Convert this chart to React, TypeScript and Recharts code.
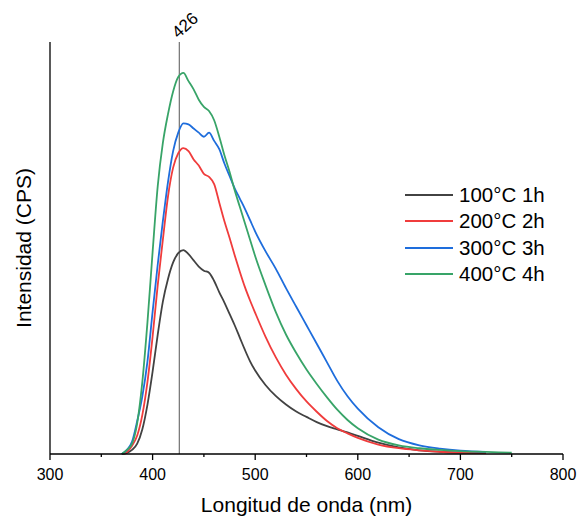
import React from 'react'
import { LineChart, Line, XAxis, YAxis, ReferenceLine, Legend, Label } from 'recharts'

// ── Data ──────────────────────────────────────────────────────
const wavelengths = [
  370, 375, 380, 385, 390, 395, 400, 405, 410, 415, 420, 425, 430, 435, 440, 445, 450, 455,
  460, 465, 470, 475, 480, 485, 490, 495, 500, 510, 520, 530, 540, 550, 560, 570, 580, 590,
  600, 620, 640, 660, 680, 700, 725, 750,
]

const s100 = [
  0, 0.005, 0.02, 0.05, 0.12, 0.24, 0.4, 0.58, 0.74, 0.85, 0.93, 0.975, 0.99, 0.97, 0.94, 0.91, 0.89, 0.88,
  0.84, 0.785, 0.735, 0.68, 0.625, 0.565, 0.505, 0.45, 0.405, 0.335, 0.282, 0.24, 0.206, 0.18, 0.155, 0.135, 0.12, 0.105,
  0.088, 0.055, 0.032, 0.018, 0.011, 0.007, 0.004, null,
]

const s200 = [
  0, 0.01, 0.04, 0.09, 0.19, 0.35, 0.57, 0.82, 1.04, 1.25, 1.39, 1.46, 1.485, 1.47, 1.43, 1.4, 1.36, 1.345,
  1.31, 1.22, 1.13, 1.05, 0.965, 0.885, 0.81, 0.745, 0.685, 0.57, 0.47, 0.385, 0.315, 0.255, 0.205, 0.16, 0.125, 0.1,
  0.078, 0.046, 0.028, 0.018, 0.011, 0.007, 0.004, null,
]

const s300 = [
  0, 0.02, 0.06, 0.16, 0.28, 0.45, 0.69, 0.92, 1.13, 1.32, 1.47, 1.56, 1.605, 1.6, 1.58, 1.56, 1.54, 1.56,
  1.52, 1.48, 1.41, 1.35, 1.29, 1.24, 1.19, 1.135, 1.08, 0.985, 0.9, 0.805, 0.715, 0.625, 0.535, 0.445, 0.355, 0.28,
  0.22, 0.13, 0.072, 0.042, 0.026, 0.016, 0.01, null,
]

const s400 = [
  0, 0.02, 0.05, 0.15, 0.35, 0.64, 0.98, 1.3, 1.51, 1.65, 1.76, 1.83, 1.85, 1.81, 1.77, 1.72, 1.685, 1.665,
  1.62, 1.54, 1.45, 1.37, 1.28, 1.2, 1.12, 1.04, 0.96, 0.82, 0.69, 0.58, 0.49, 0.41, 0.34, 0.275, 0.215, 0.165,
  0.125, 0.07, 0.042, 0.028, 0.02, 0.014, 0.01, 0.006,
]

const seriesNames = ['100°C 1h', '200°C 2h', '300°C 3h', '400°C 4h']
const seriesColors = ['#424242', '#f03c3c', '#1e6ddc', '#38a468']
const xTicks = [300, 350, 400, 450, 500, 550, 600, 650, 700, 750, 800]
const yTicks = [0, 1, 2]
const peak = 426

const data = wavelengths.map((w, i) => ({
  w,
  a: s100[i],
  b: s200[i],
  c: s300[i],
  d: s400[i],
}))

const FONT = '"Liberation Sans", Arial, sans-serif'

// ── Custom pieces ─────────────────────────────────────────────
function XTick(props: any) {
  const { x, y, payload } = props
  const major = payload.value % 100 === 0
  return (
    <g>
      <line x1={x} y1={y} x2={x} y2={y + (major ? 6 : 3)} stroke="#000" strokeWidth={1.3} />
      {major && (
        <text x={x} y={y + 26} textAnchor="middle" fontSize={16} fontFamily={FONT} fill="#000">
          {payload.value}
        </text>
      )}
    </g>
  )
}

function PeakLabel(props: any) {
  const vb = props.viewBox
  const px = vb.x - 1
  const py = vb.y - 3
  return (
    <text
      x={px}
      y={py}
      transform={`rotate(-42 ${px} ${py})`}
      fontSize={17}
      fontFamily={FONT}
      fill="#000"
    >
      {peak}
    </text>
  )
}

function YTitle(props: any) {
  const vb = props.viewBox
  const cx = 23
  const cy = vb.y + vb.height / 2
  return (
    <text
      x={cx}
      y={cy}
      transform={`rotate(-90 ${cx} ${cy})`}
      textAnchor="middle"
      dominantBaseline="central"
      fontSize={21}
      fontFamily={FONT}
      fill="#000"
    >
      Intensidad (CPS)
    </text>
  )
}

function LegendBox(props: any) {
  const items = props.payload ?? []
  return (
    <div style={{ fontFamily: FONT, fontSize: 20.5, color: '#000' }}>
      {items.map((it: any) => (
        <div key={it.value} style={{ display: 'flex', alignItems: 'center', height: 26.3 }}>
          <svg width={48} height={4} style={{ marginRight: 6 }}>
            <line x1={0} y1={2} x2={48} y2={2} stroke={it.color} strokeWidth={2} />
          </svg>
          <span style={{ lineHeight: '26px' }}>{it.value}</span>
        </div>
      ))}
    </div>
  )
}

export default function App() {
  const keys = ['a', 'b', 'c', 'd']
  return (
    <div style={{ position: 'absolute', left: 0, top: 0, width: 579, height: 517, background: '#fff' }}>
      <LineChart width={579} height={517} data={data} margin={{ top: 42, right: 16, left: 0, bottom: 0 }}>
        <XAxis
          dataKey="w"
          type="number"
          domain={[300, 800]}
          ticks={xTicks}
          interval={0}
          tick={<XTick />}
          tickLine={false}
          tickSize={0}
          tickMargin={0}
          height={63}
          axisLine={{ stroke: '#000', strokeWidth: 1.3 }}
        >
          <Label
            value="Longitud de onda (nm)"
            position="insideBottom"
            offset={5}
            style={{ fontSize: 21, fontFamily: FONT, fill: '#000' }}
          />
        </XAxis>
        <YAxis
          type="number"
          domain={[0, 2]}
          ticks={yTicks}
          tick={false}
          tickSize={6}
          width={50}
          tickLine={{ stroke: '#000', strokeWidth: 1.3 }}
          axisLine={{ stroke: '#000', strokeWidth: 1.3 }}
        >
          <Label content={<YTitle />} />
        </YAxis>
        <ReferenceLine x={peak} stroke="#555" strokeWidth={1} label={<PeakLabel />} />
        {keys.map((k, i) => (
          <Line
            key={k}
            type="monotone"
            dataKey={k}
            name={seriesNames[i]}
            stroke={seriesColors[i]}
            strokeWidth={1.8}
            dot={false}
            activeDot={false}
            isAnimationActive={false}
          />
        ))}
        <Legend
          content={<LegendBox />}
          layout="horizontal"
          verticalAlign="middle"
          align="center"
          wrapperStyle={{ position: 'absolute', left: 405, top: 182, width: 170, right: 'auto', bottom: 'auto' }}
        />
      </LineChart>
    </div>
  )
}
